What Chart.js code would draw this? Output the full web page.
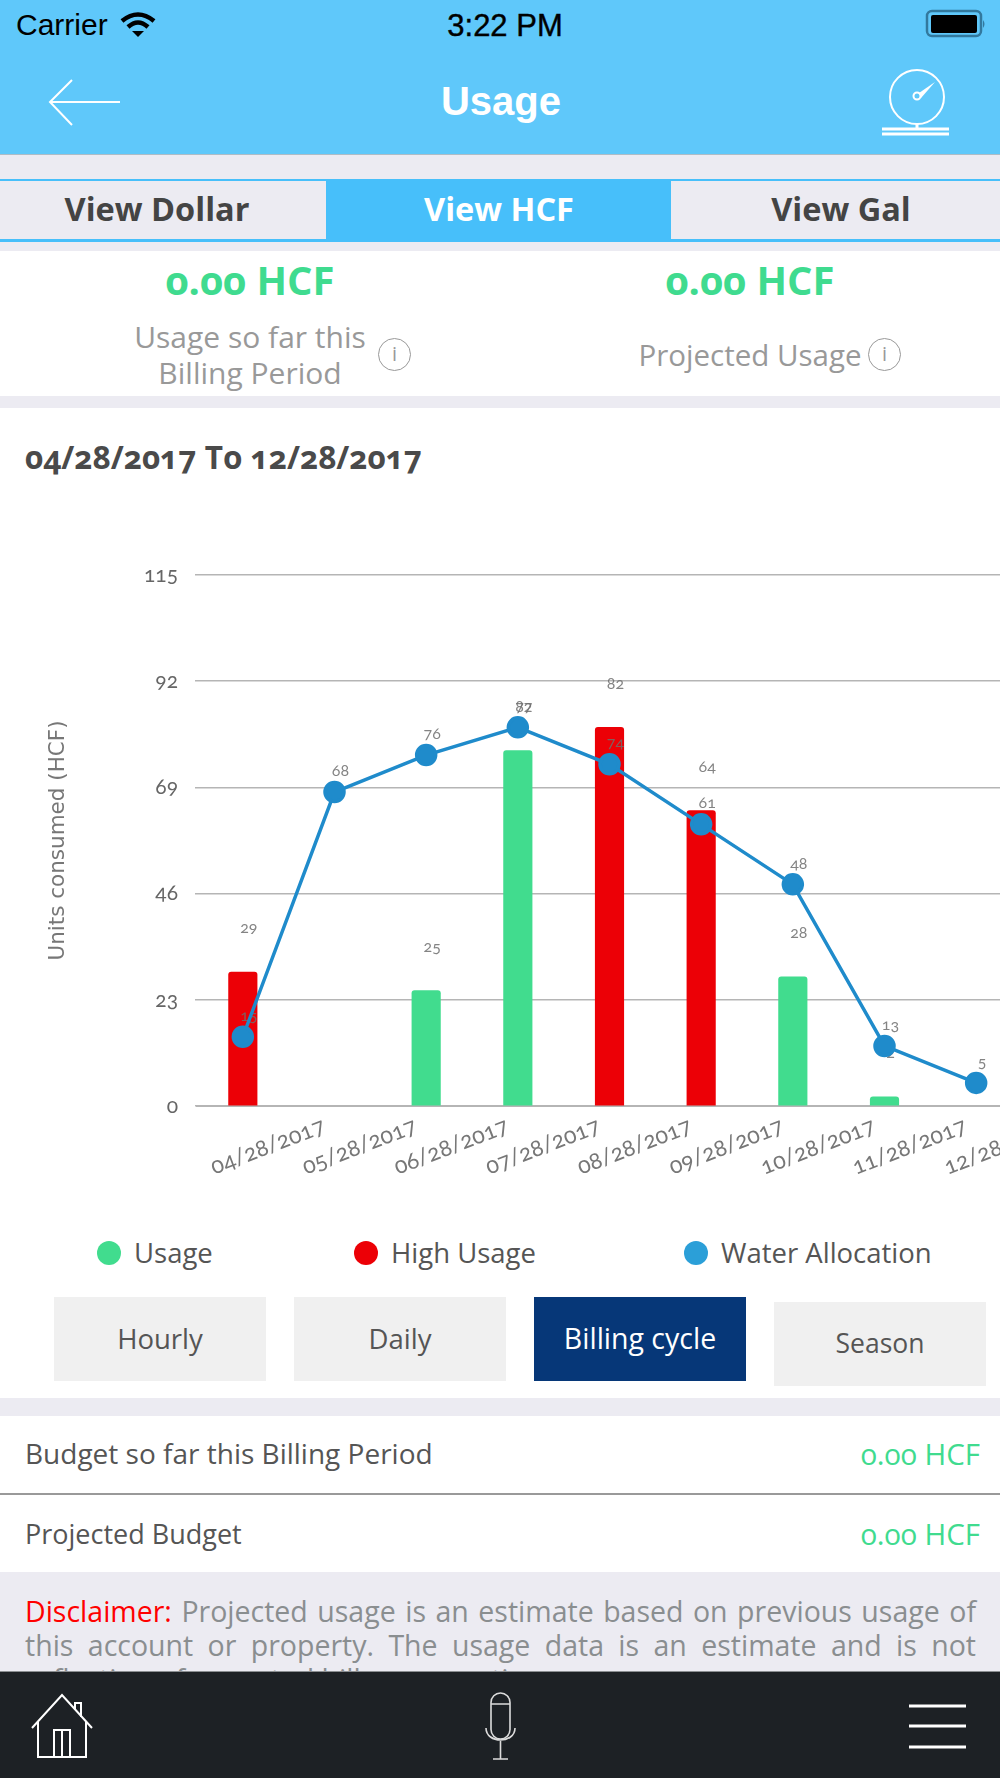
<!DOCTYPE html>
<html>
<head>
<meta charset="utf-8">
<title>Usage</title>
<script src="https://cdn.jsdelivr.net/npm/chart.js@4"></script>
<style>
  html, body { margin: 0; padding: 0; background: #fff; }
  body { position: relative; width: 1000px; height: 1778px; overflow: hidden; font-family: "Open Sans", sans-serif; font-variant-numeric: oldstyle-nums; }
  .box { position: absolute; }
  .txt { position: absolute; white-space: nowrap; transform: translate(-50%, -50%); }
  .left { transform: translate(0, -50%); }
  .right { transform: translate(-100%, -50%); }
  .btn { position: absolute; width: 212px; height: 84px; line-height: 83px; text-align: center; background: #f0f0f0; color: #555; font-size: 27.5px; }
  .dot { position: absolute; width: 24px; height: 24px; border-radius: 50%; }
  .info { position: absolute; width: 33px; height: 33px; line-height: 30px; border: 1.5px solid #999; border-radius: 50%; text-align: center; color: #999; font-size: 20px; box-sizing: border-box; }
  #chartWrap { position: absolute; left: 0; top: 500px; width: 1000px; height: 700px; overflow: hidden; }
</style>
</head>
<body>
  <!-- header -->
  <div class="box" style="left:0;top:0;width:1000px;height:155px;background:#5fc8fa;border-bottom:1px solid #aebcc6;box-sizing:border-box"></div>
  <div class="txt left" style="left:16px;top:25px;font:30px 'Liberation Sans';color:#000">Carrier</div>
  <svg class="box" style="left:120px;top:11px" width="36" height="27" viewBox="0 0 36 27">
    <path d="M2 10 Q18 -3 34 10" fill="none" stroke="#000" stroke-width="4.5"/>
    <path d="M8 16 Q18 7 28 16" fill="none" stroke="#000" stroke-width="4.5"/>
    <path d="M12 20 L24 20 L18 26 Z" fill="#000"/>
  </svg>
  <div class="txt" style="left:505px;top:26px;font:31px 'Liberation Sans';color:#000;-webkit-text-stroke:0.4px #000">3:22 PM</div>
  <svg class="box" style="left:924px;top:9px" width="62" height="30" viewBox="0 0 62 30">
    <rect x="3" y="2" width="54" height="25" rx="5" fill="none" stroke="#32799e" stroke-width="2.5"/>
    <rect x="7" y="6" width="46" height="18" rx="2" fill="#000"/>
    <path d="M59 11 Q62 15 59 19 Z" fill="#32799e"/>
  </svg>
  <div class="txt" style="left:501px;top:101px;font:bold 40px 'Liberation Sans';color:#fff">Usage</div>
  <svg class="box" style="left:0;top:60px" width="140" height="80" viewBox="0 0 140 80">
    <path d="M72 20 L50 42 L72 65 M50 42 L120 42" fill="none" stroke="#fff" stroke-width="2"/>
  </svg>
  <svg class="box" style="left:870px;top:60px" width="90" height="80" viewBox="0 0 90 80">
    <circle cx="47" cy="37" r="27" fill="none" stroke="#fff" stroke-width="2"/>
    <circle cx="47" cy="36" r="3.5" fill="none" stroke="#fff" stroke-width="2"/>
    <path d="M49 33 L65 22 L51 38 Z" fill="#fff"/>
    <path d="M47 64 V69 M12 69 H79 M12 74 H79" fill="none" stroke="#fff" stroke-width="3"/>
  </svg>

  <!-- tabs -->
  <div class="box" style="left:0;top:155px;width:1000px;height:96px;background:#ecebf2"></div>
  <div class="box" style="left:0;top:179px;width:1000px;height:2px;background:#47bffa"></div>
  <div class="box" style="left:0;top:239px;width:1000px;height:3px;background:#47bffa"></div>
  <div class="box" style="left:326px;top:179px;width:345px;height:62px;background:#47bffa"></div>
  <div class="txt" style="left:157px;top:208px;font-weight:700;font-size:32.5px;color:#444">View Dollar</div>
  <div class="txt" style="left:499px;top:208px;font-weight:700;font-size:32.5px;color:#fff">View HCF</div>
  <div class="txt" style="left:841px;top:208px;font-weight:700;font-size:32.5px;color:#444">View Gal</div>

  <!-- summary -->
  <div class="txt" style="left:250px;top:279px;font-weight:700;font-size:40px;color:#3fdb8f">0.00 HCF</div>
  <div class="txt" style="left:750px;top:279px;font-weight:700;font-size:40px;color:#3fdb8f">0.00 HCF</div>
  <div class="txt" style="left:250px;top:336px;font-size:30px;color:#999">Usage so far this</div>
  <div class="txt" style="left:250px;top:372px;font-size:30px;color:#999">Billing Period</div>
  <div class="info" style="left:378px;top:338px">i</div>
  <div class="txt" style="left:750px;top:354px;font-size:29.5px;color:#999">Projected Usage</div>
  <div class="info" style="left:868px;top:338px">i</div>
  <div class="box" style="left:0;top:396px;width:1000px;height:12px;background:#ecebf2"></div>

  <div class="txt left" style="left:25px;top:456px;font-weight:700;font-size:31.5px;color:#4a4a4a">04/28/2017 To 12/28/2017</div>

  <div id="chartWrap"><canvas id="usageChart" width="1100" height="700"></canvas></div>

  <!-- legend -->
  <div class="dot" style="left:97px;top:1241px;background:#41dc8e"></div>
  <div class="txt left" style="left:134px;top:1252px;font-size:27.5px;color:#555">Usage</div>
  <div class="dot" style="left:354px;top:1241px;background:#ec0006"></div>
  <div class="txt left" style="left:391px;top:1252px;font-size:27.5px;color:#555">High Usage</div>
  <div class="dot" style="left:684px;top:1241px;background:#2b9fd8"></div>
  <div class="txt left" style="left:721px;top:1252px;font-size:27.5px;color:#555">Water Allocation</div>

  <div class="btn" style="left:54px;top:1297px">Hourly</div>
  <div class="btn" style="left:294px;top:1297px">Daily</div>
  <div class="btn" style="left:534px;top:1297px;background:#063778;color:#fff;font-size:28.5px">Billing cycle</div>
  <div class="btn" style="left:774px;top:1302px;font-size:26.5px">Season</div>

  <!-- budget rows -->
  <div class="box" style="left:0;top:1398px;width:1000px;height:18px;background:#ecebf2"></div>
  <div class="txt left" style="left:25px;top:1453px;font-size:28px;color:#555">Budget so far this Billing Period</div>
  <div class="txt right" style="left:980px;top:1453px;font-size:29.5px;color:#3fdb8f">0.00 HCF</div>
  <div class="box" style="left:0;top:1493px;width:1000px;height:2px;background:#999"></div>
  <div class="txt left" style="left:25px;top:1533px;font-size:27px;color:#555">Projected Budget</div>
  <div class="txt right" style="left:980px;top:1533px;font-size:29.5px;color:#3fdb8f">0.00 HCF</div>

  <!-- disclaimer -->
  <div class="box" style="left:0;top:1572px;width:1000px;height:100px;background:#ecebf2"></div>
  <div class="box" style="left:25px;top:1594px;width:951px;font-size:28.5px;line-height:34px;color:#8a8e90;text-align:justify"><span style="color:#f00">Disclaimer:</span> Projected usage is an estimate based on previous usage of this account or property. The usage data is an estimate and is not reflection of expected bill consumption.</div>

  <!-- footer -->
  <div class="box" style="left:0;top:1671px;width:1000px;height:107px;background:#1d2125;border-top:1px solid #8b8f92;box-sizing:border-box"></div>
  <svg class="box" style="left:0;top:1671px" width="1000" height="107" viewBox="0 0 1000 107">
    <g fill="none" stroke="#fff" stroke-width="2">
      <path d="M32 57 L62 24 L92 57 M38 50 V86 H86 V50 M54 86 V59 H70 V86 M62 59 V86"/>
      <path d="M75 39 V32 H81 V46"/>
    </g>
    <g fill="none" stroke="#dcdcdc" stroke-width="1.6">
      <rect x="491" y="22" width="19" height="46" rx="9.5"/>
      <path d="M491 33 H510 M486 57 C486 73 515 73 515 57 M500.5 70 V88 M493 88 H508"/>
    </g>
    <path d="M909 35 H966 M909 55 H966 M909 76 H966" fill="none" stroke="#fff" stroke-width="3"/>
  </svg>

<script>
const LABELS = ['04/28/2017', '05/28/2017', '06/28/2017', '07/28/2017', '08/28/2017', '09/28/2017', '10/28/2017', '11/28/2017', '12/28/2017'];
const USAGE = [null, null, 25, 77, null, null, 28, 2, null];
const HIGH_USAGE = [29, null, null, null, 82, 64, null, null, null];
const WATER_ALLOCATION = [15, 68, 76, 82, 74, 61, 48, 13, 5];

const BAR_LABEL_OFFSET = 44;
const LINE_LABEL_OFFSET = 21;

// draws value labels under the line, over the bars
const valueLabels = {
  id: 'valueLabels',
  beforeDatasetDraw(chart, args) {
    if (chart.data.datasets[args.index].type !== 'line') return;
    const ctx = chart.ctx;
    ctx.save();
    ctx.font = '16px Lato';
    ctx.fillStyle = 'rgba(110,110,110,0.85)';
    ctx.textAlign = 'center';
    ctx.textBaseline = 'middle';
    chart.data.datasets.forEach((ds, i) => {
      const offset = ds.type === 'line' ? LINE_LABEL_OFFSET : BAR_LABEL_OFFSET;
      chart.getDatasetMeta(i).data.forEach((el, j) => {
        if (ds.data[j] === null) return;
        ctx.fillText(ds.data[j], el.x + 6, el.y - offset);
      });
    });
    ctx.restore();
  },
};

const barStyle = {
  type: 'bar',
  barThickness: 28.5,
  borderRadius: { topLeft: 3, topRight: 3 },
  order: 2,
};

new Chart(document.getElementById('usageChart'), {
  data: {
    labels: LABELS,
    datasets: [
      { ...barStyle, label: 'Usage', data: USAGE, backgroundColor: '#41dc8e' },
      { ...barStyle, label: 'High Usage', data: HIGH_USAGE, backgroundColor: '#ec0006' },
      {
        type: 'line',
        label: 'Water Allocation',
        data: WATER_ALLOCATION,
        borderColor: '#1f8bcb',
        backgroundColor: '#1f8bcb',
        borderWidth: 3.5,
        pointRadius: 9.5,
        tension: 0,
        fill: false,
        order: 1,
      },
    ],
  },
  options: {
    responsive: false,
    animation: false,
    layout: { padding: { top: 75, right: 78 } },
    plugins: { legend: { display: false }, tooltip: { enabled: false } },
    scales: {
      x: {
        stacked: true,
        afterFit: (scale) => { scale.height = 94; },
        grid: { display: false, drawTicks: false },
        border: { color: '#b5b5b5', width: 2 },
        ticks: {
          autoSkip: false,
          minRotation: 21,
          maxRotation: 21,
          labelOffset: 81,
          padding: 6,
          color: '#777',
          font: { family: 'Lato', size: 23 },
        },
      },
      y: {
        min: 0,
        max: 115,
        afterFit: (scale) => { scale.width = 197; },
        grid: { color: '#b5b5b5', lineWidth: 1.5, tickLength: 2 },
        border: { display: false },
        ticks: {
          stepSize: 23,
          padding: 17,
          color: '#666',
          font: { family: 'Lato', size: 21 },
        },
        title: {
          display: true,
          text: 'Units consumed (HCF)',
          color: '#777',
          padding: { top: 46, bottom: 0 },
          font: { family: 'DejaVu Sans', size: 21.5 },
        },
      },
    },
  },
  plugins: [valueLabels],
});
</script>
</body>
</html>
